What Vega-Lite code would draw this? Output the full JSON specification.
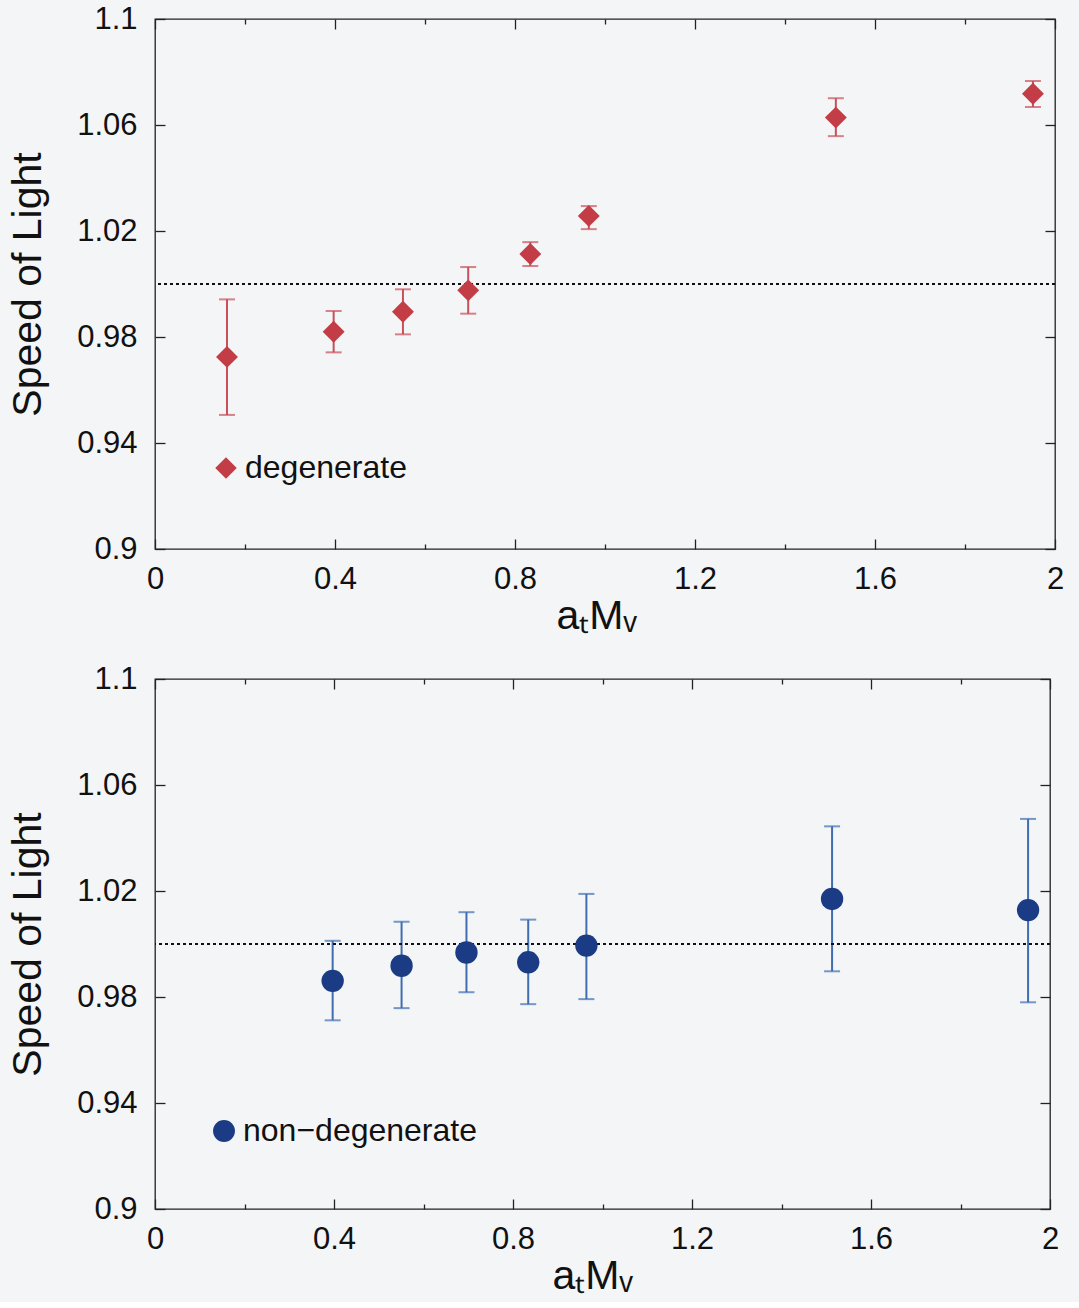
{
  "$schema": "https://vega.github.io/schema/vega-lite/v6.json",
  "background": "#f4f5f7",
  "padding": {"left": 7, "top": 2, "right": 30, "bottom": 5},
  "spacing": 25,
  "resolve": {"scale": {"color": "independent", "shape": "independent"}, "legend": {"color": "independent", "shape": "independent"}},
  "datasets": {
    "deg": [
      {"x": 0.16, "y": 0.9725, "lo": 0.9506, "hi": 0.9942, "series": "degenerate"},
      {"x": 0.397, "y": 0.982, "lo": 0.9742, "hi": 0.9898, "series": "degenerate"},
      {"x": 0.551, "y": 0.9895, "lo": 0.981, "hi": 0.998, "series": "degenerate"},
      {"x": 0.696, "y": 0.9976, "lo": 0.9888, "hi": 1.0064, "series": "degenerate"},
      {"x": 0.834, "y": 1.0113, "lo": 1.0068, "hi": 1.0158, "series": "degenerate"},
      {"x": 0.964, "y": 1.0257, "lo": 1.0207, "hi": 1.0294, "series": "degenerate"},
      {"x": 1.513, "y": 1.0628, "lo": 1.0558, "hi": 1.0701, "series": "degenerate"},
      {"x": 1.951, "y": 1.0718, "lo": 1.0668, "hi": 1.0766, "series": "degenerate"}
    ],
    "nondeg": [
      {"x": 0.397, "y": 0.9861, "lo": 0.9712, "hi": 1.0012, "series": "non\u2212degenerate"},
      {"x": 0.551, "y": 0.9918, "lo": 0.9758, "hi": 1.0084, "series": "non\u2212degenerate"},
      {"x": 0.696, "y": 0.9968, "lo": 0.9818, "hi": 1.012, "series": "non\u2212degenerate"},
      {"x": 0.834, "y": 0.9931, "lo": 0.9773, "hi": 1.0092, "series": "non\u2212degenerate"},
      {"x": 0.964, "y": 0.9994, "lo": 0.9792, "hi": 1.0189, "series": "non\u2212degenerate"},
      {"x": 1.513, "y": 1.017, "lo": 0.9897, "hi": 1.0444, "series": "non\u2212degenerate"},
      {"x": 1.951, "y": 1.0128, "lo": 0.978, "hi": 1.0472, "series": "non\u2212degenerate"}
    ]
  },
  "config": {
    "font": "Liberation Sans",
    "view": {"stroke": "#222", "strokeWidth": 1.3},
    "axis": {
      "grid": false,
      "domain": false,
      "labelFlush": false,
      "labelFont": "Liberation Sans",
      "labelFontSize": 31,
      "labelColor": "#111",
      "tickColor": "#222",
      "tickWidth": 1.3,
      "titleFont": "Liberation Sans",
      "titleFontWeight": "normal",
      "titleColor": "#111",
      "titleFontSize": 41
    },
    "legend": {
      "labelFont": "Liberation Sans",
      "labelFontSize": 32,
      "labelColor": "#111",
      "labelLimit": 500,
      "padding": 0
    }
  },
  "vconcat": [
    {
      "width": 900,
      "height": 530,
      "data": {"name": "deg"},
      "resolve": {"axis": {"x": "independent", "y": "independent"}},
      "layer": [
        {
          "mark": {"type": "rule", "color": "#c9505a", "strokeWidth": 2},
          "encoding": {
            "x": {"field": "x", "type": "quantitative", "scale": {"domain": [0, 2], "nice": false},
              "axis": {"orient": "bottom", "values": [0, 0.4, 0.8, 1.2, 1.6, 2], "format": "~g", "tickSize": -10, "labelPadding": 25, "title": "a\u209cM\u1d65", "titlePadding": 2, "titleX": 441}},
            "y": {"field": "lo", "type": "quantitative", "scale": {"domain": [0.9, 1.1], "nice": false, "zero": false},
              "axis": {"orient": "left", "values": [0.9, 0.94, 0.98, 1.02, 1.06, 1.1], "format": "~g", "tickSize": -10, "labelPadding": 28, "title": "Speed of Light", "titlePadding": 27}},
            "y2": {"field": "hi"}
          }
        },
        {
          "mark": {"type": "tick", "orient": "horizontal", "color": "#c9505a", "size": 16, "thickness": 2},
          "encoding": {
            "x": {"field": "x", "type": "quantitative", "scale": {"domain": [0, 2], "nice": false},
              "axis": {"orient": "top", "values": [0, 0.4, 0.8, 1.2, 1.6, 2], "labels": false, "tickSize": -10, "title": null}},
            "y": {"field": "lo", "type": "quantitative", "scale": {"domain": [0.9, 1.1], "nice": false, "zero": false},
              "axis": {"orient": "right", "values": [0.9, 0.94, 0.98, 1.02, 1.06, 1.1], "labels": false, "tickSize": -10, "title": null}}
          }
        },
        {
          "mark": {"type": "tick", "orient": "horizontal", "color": "#c9505a", "size": 16, "thickness": 2},
          "encoding": {
            "x": {"field": "x", "type": "quantitative", "scale": {"domain": [0, 2], "nice": false},
              "axis": {"orient": "bottom", "values": [0.2, 0.6, 1.0, 1.4, 1.8], "labels": false, "tickSize": -5, "title": null}},
            "y": {"field": "hi", "type": "quantitative", "scale": {"domain": [0.9, 1.1], "nice": false, "zero": false}, "axis": null}
          }
        },
        {
          "mark": {"type": "rule", "strokeDash": [3, 3], "color": "#111", "strokeWidth": 1.6},
          "encoding": {
            "y": {"datum": 1, "type": "quantitative", "scale": {"domain": [0.9, 1.1], "nice": false, "zero": false}, "axis": null}
          }
        },
        {
          "mark": {"type": "point", "filled": true, "opacity": 1, "size": 480},
          "encoding": {
            "x": {"field": "x", "type": "quantitative", "scale": {"domain": [0, 2], "nice": false},
              "axis": {"orient": "top", "values": [0.2, 0.6, 1.0, 1.4, 1.8], "labels": false, "tickSize": -5, "title": null}},
            "y": {"field": "y", "type": "quantitative", "scale": {"domain": [0.9, 1.1], "nice": false, "zero": false}, "axis": null},
            "color": {"field": "series", "type": "nominal", "scale": {"domain": ["degenerate"], "range": ["#c23d46"]},
              "legend": {"orient": "none", "legendX": 55, "legendY": 433, "title": null, "symbolSize": 460, "symbolType": "diamond", "labelOffset": 3}},
            "shape": {"field": "series", "type": "nominal", "scale": {"domain": ["degenerate"], "range": ["diamond"]}, "legend": null}
          }
        }
      ]
    },
    {
      "width": 895,
      "height": 530,
      "data": {"name": "nondeg"},
      "resolve": {"axis": {"x": "independent", "y": "independent"}},
      "layer": [
        {
          "mark": {"type": "rule", "color": "#3f6db0", "strokeWidth": 2},
          "encoding": {
            "x": {"field": "x", "type": "quantitative", "scale": {"domain": [0, 2], "nice": false},
              "axis": {"orient": "bottom", "values": [0, 0.4, 0.8, 1.2, 1.6, 2], "format": "~g", "tickSize": -10, "labelPadding": 25, "title": "a\u209cM\u1d65", "titlePadding": 2, "titleX": 437}},
            "y": {"field": "lo", "type": "quantitative", "scale": {"domain": [0.9, 1.1], "nice": false, "zero": false},
              "axis": {"orient": "left", "values": [0.9, 0.94, 0.98, 1.02, 1.06, 1.1], "format": "~g", "tickSize": -10, "labelPadding": 28, "title": "Speed of Light", "titlePadding": 27}},
            "y2": {"field": "hi"}
          }
        },
        {
          "mark": {"type": "tick", "orient": "horizontal", "color": "#3f6db0", "size": 16, "thickness": 2},
          "encoding": {
            "x": {"field": "x", "type": "quantitative", "scale": {"domain": [0, 2], "nice": false},
              "axis": {"orient": "top", "values": [0, 0.4, 0.8, 1.2, 1.6, 2], "labels": false, "tickSize": -10, "title": null}},
            "y": {"field": "lo", "type": "quantitative", "scale": {"domain": [0.9, 1.1], "nice": false, "zero": false},
              "axis": {"orient": "right", "values": [0.9, 0.94, 0.98, 1.02, 1.06, 1.1], "labels": false, "tickSize": -10, "title": null}}
          }
        },
        {
          "mark": {"type": "tick", "orient": "horizontal", "color": "#3f6db0", "size": 16, "thickness": 2},
          "encoding": {
            "x": {"field": "x", "type": "quantitative", "scale": {"domain": [0, 2], "nice": false},
              "axis": {"orient": "bottom", "values": [0.2, 0.6, 1.0, 1.4, 1.8], "labels": false, "tickSize": -5, "title": null}},
            "y": {"field": "hi", "type": "quantitative", "scale": {"domain": [0.9, 1.1], "nice": false, "zero": false}, "axis": null}
          }
        },
        {
          "mark": {"type": "rule", "strokeDash": [3, 3], "color": "#111", "strokeWidth": 1.6},
          "encoding": {
            "y": {"datum": 1, "type": "quantitative", "scale": {"domain": [0.9, 1.1], "nice": false, "zero": false}, "axis": null}
          }
        },
        {
          "mark": {"type": "point", "filled": true, "opacity": 1, "size": 500, "shape": "circle"},
          "encoding": {
            "x": {"field": "x", "type": "quantitative", "scale": {"domain": [0, 2], "nice": false},
              "axis": {"orient": "top", "values": [0.2, 0.6, 1.0, 1.4, 1.8], "labels": false, "tickSize": -5, "title": null}},
            "y": {"field": "y", "type": "quantitative", "scale": {"domain": [0.9, 1.1], "nice": false, "zero": false}, "axis": null},
            "color": {"field": "series", "type": "nominal", "scale": {"domain": ["non\u2212degenerate"], "range": ["#1b3b84"]},
              "legend": {"orient": "none", "legendX": 53, "legendY": 436, "title": null, "symbolSize": 480, "symbolType": "circle", "labelOffset": 3}}
          }
        }
      ]
    }
  ]
}
